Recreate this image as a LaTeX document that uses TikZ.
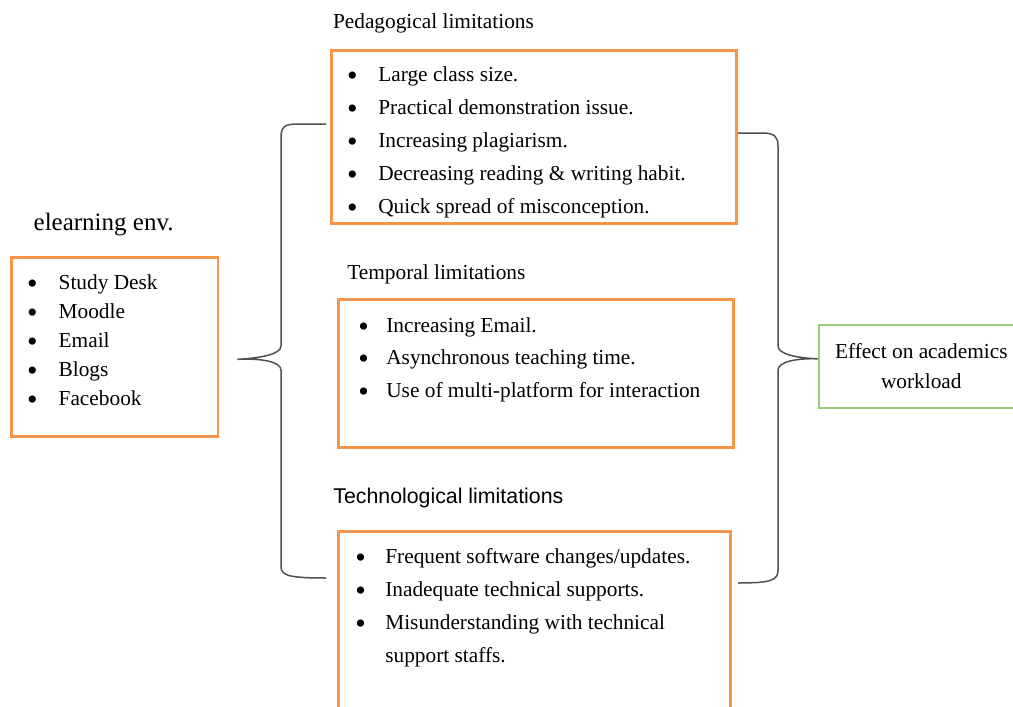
\documentclass[tikz,border=0pt]{standalone}
\usepackage{fontspec}
\setmainfont{Liberation Serif}
\newfontfamily\capsans{Liberation Sans}
\usetikzlibrary{positioning}
\definecolor{BoxOrange}{HTML}{F79646}
\definecolor{BoxGreen}{HTML}{9BCB7A}
\definecolor{BraceInk}{HTML}{505050}
\newcommand{\bul}[1][18pt]{\makebox[#1][l]{\raisebox{-2.4pt}{\fontsize{18}{18}\selectfont\textbullet}}}

\begin{document}
\begin{tikzpicture}[
    x=0.6pt, y=-0.6pt,
    font=\fontsize{12.8}{15}\selectfont,
    obox/.style={
      draw=BoxOrange,
      line width=1.6pt,
      anchor=north west,
      inner sep=0pt,
    },
    gbox/.style={
      draw=BoxGreen,
      line width=1pt,
      inner sep=0pt,
      align=center,
      font=\fontsize{12.8}{18}\selectfont,
    },
    blist/.style={
      anchor=north west,
      inner sep=0pt,
      align=left,
    },
    headtext/.style={inner sep=0pt},
    brace/.style={draw=BraceInk, line width=0.9pt},
  ]
    \useasboundingbox (0,0) rectangle (1013,707);

    % ---- elearning environment ----
    \node[obox, minimum width=124pt, minimum height=107.4pt] (env) at (10,256) {};
    \node[blist, font=\fontsize{12.8}{17.4}\selectfont] (envlist)
      at ([xshift=10pt,yshift=-11.2pt]env.north west) {%
      \bul[19pt]Study Desk\\
      \bul[19pt]Moodle\\
      \bul[19pt]Email\\
      \bul[19pt]Blogs\\
      \bul[19pt]Facebook};
    \node[headtext, font=\fontsize{15}{18}\selectfont,
      above=12pt of env.north west, anchor=south west, xshift=14pt] (envhead)
      {elearning env.};

    % ---- Pedagogical limitations ----
    \node[obox, minimum width=243pt, minimum height=103.8pt] (ped) at (330,49) {};
    \node[blist, font=\fontsize{12.8}{19.9}\selectfont] (pedlist)
      at ([xshift=10pt,yshift=-10.2pt]ped.north west) {%
      \bul[18.8pt]Large class size.\\
      \bul[18.8pt]Practical demonstration issue.\\
      \bul[18.8pt]Increasing plagiarism.\\
      \bul[18.8pt]Decreasing reading \& writing habit.\\
      \bul[18.8pt]Quick spread of misconception.};
    \node[headtext, above=9.6pt of ped.north west, anchor=south west, xshift=1.6pt]
      (pedhead) {Pedagogical limitations};

    % ---- Temporal limitations ----
    \node[obox, minimum width=237pt, minimum height=88.8pt] (temp) at (337,298) {};
    \node[blist, font=\fontsize{12.8}{19.5}\selectfont] (templist)
      at ([xshift=12.6pt,yshift=-11.6pt]temp.north west) {%
      \bul[16.8pt]Increasing Email.\\
      \bul[16.8pt]Asynchronous teaching time.\\
      \bul[16.8pt]Use of multi-platform for interaction};
    \node[headtext, above=8pt of temp.north west, anchor=south west, xshift=6pt]
      (temphead) {Temporal limitations};

    % ---- Technological limitations ----
    \node[obox, minimum width=235.2pt, minimum height=120pt] (tech) at (337,530) {};
    \node[blist, font=\fontsize{12.8}{19.9}\selectfont] (techlist)
      at ([xshift=10.8pt,yshift=-10.8pt]tech.north west) {%
      \bul[18pt]Frequent software changes/updates.\\
      \bul[18pt]Inadequate technical supports.\\
      \bul[18pt]Misunderstanding with technical\\
      \hspace*{18pt}support staffs.};
    \node[headtext, font=\capsans\fontsize{12.8}{15}\selectfont,
      above=13.2pt of tech.north west, anchor=south west, xshift=-2.4pt]
      (techhead) {Technological limitations};

    % ---- effect ----
    \node[gbox, minimum width=123pt, minimum height=49.8pt, anchor=north west]
      (effect) at (818,324) {Effect on academics\\workload};

    % ---- braces ----
    \coordinate (ltop) at (326,124);
    \coordinate (lbot) at (326,578);
    \coordinate (ltip) at ([xshift=10.8pt,yshift=-7.5pt]env.east);
    \draw[brace] (ltop) -- (298,124)
      .. controls (284,124) and (281,127) .. (281,138) -- (281,346)
      .. controls (281,354) and (262,358) .. (ltip)
      .. controls (262,358) and (281,362) .. (281,370) -- (281,566)
      .. controls (281,575) and (286,578) .. (lbot);

    \coordinate (rtop) at (738,133);
    \coordinate (rbot) at (738,583);
    \coordinate (rtip) at ([yshift=4.5pt]effect.west);
    \draw[brace] (rtop) -- (762,133)
      .. controls (775,133) and (778,137) .. (778,146) -- (778,346)
      .. controls (778,354) and (796,358) .. (rtip)
      .. controls (796,358) and (778,362) .. (778,370) -- (778,570)
      .. controls (778,580) and (772,583) .. (rbot);
  \end{tikzpicture}
\end{document}
